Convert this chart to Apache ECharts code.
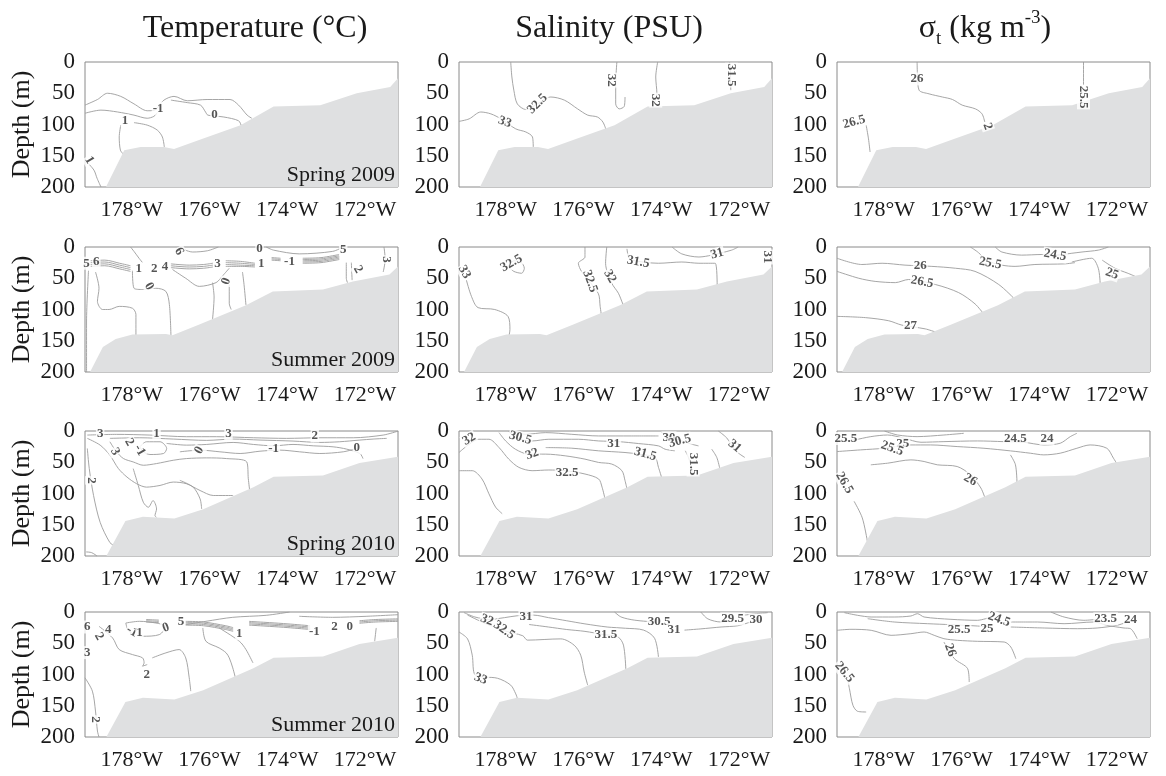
<!DOCTYPE html>
<html><head><meta charset="utf-8">
<script src="https://cdn.jsdelivr.net/npm/echarts@6/dist/echarts.min.js"></script>
<style>html,body{margin:0;padding:0;background:#fff}#c{width:1166px;height:776px}</style>
</head><body><div id="c"></div>
<script>
// ---------- labels / ticks ----------
const seasons = ['Spring 2009', 'Summer 2009', 'Spring 2010', 'Summer 2010'];
const lonTicks = [-178, -176, -174, -172];
const depthTicks = [0, 50, 100, 150, 200];
const lonRange = [-179.2, -171.15];

// ---------- bathymetry [lon, depth] ----------
const bathyRow1 = [[-178.66,200],[-178.19,141],[-177.77,136],[-177.17,136],[-176.91,139],[-176.14,122],[-175.20,101],[-174.35,71],[-173.15,69],[-172.21,50],[-171.35,40],[-171.15,26]];
const bathyRow2 = [[-179.07,200],[-178.74,160],[-178.41,147],[-177.98,140],[-177.12,139],[-176.95,141],[-176.26,124],[-175.06,93],[-174.37,71],[-173.08,68],[-172.31,55],[-171.37,44],[-171.15,31]];
const bathyRow34 = [[-178.65,200],[-178.16,144],[-177.71,137],[-176.90,140],[-176.16,125],[-174.87,90],[-174.35,73],[-173.08,71],[-172.14,51],[-171.15,41]];

// ---------- Temperature, Spring 2009 ----------
const tSp09Lines = [
 [[-179.20,69],[-178.88,60],[-178.62,50],[-178.28,55],[-177.94,67],[-177.60,78],[-177.41,77],[-177.17,61],[-176.91,55],[-176.57,62],[-176.06,60],[-175.47,60],[-175.25,69],[-175.03,85],[-174.91,90]],
 [[-179.20,82],[-178.79,77],[-178.36,80],[-177.94,85],[-177.60,90],[-177.43,87],[-177.34,81]],
 [[-176.99,61],[-176.57,65],[-176.23,69],[-176.10,80],[-176.04,85],[-175.63,88],[-175.25,94],[-175.18,102]],
 [[-177.94,97],[-177.60,101],[-177.34,109],[-177.21,120],[-177.16,136]],
 [[-178.28,101],[-178.32,120],[-178.29,141],[-178.22,147]],
 [[-179.15,160],[-178.97,173],[-178.89,186],[-178.79,200]]
];
const tSp09Labels = [[-177.32,74,'-1',0],[-175.87,85,'0',0],[-178.17,94,'1',0],[-179.09,157,'1',-60]];

// ---------- Salinity, Spring 2009 ----------
const sSp09Lines = [
 [[-179.20,95],[-178.94,91],[-178.64,80],[-178.38,83],[-178.12,91],[-177.74,107],[-177.48,112],[-177.31,120],[-177.29,137]],
 [[-177.87,0],[-177.84,24],[-177.79,45],[-177.70,67],[-177.48,76],[-177.18,67],[-176.84,56],[-176.49,61],[-176.15,75],[-175.89,85],[-175.64,88],[-175.50,96],[-175.42,108]],
 [[-175.14,0],[-175.17,35],[-175.17,67],[-175.08,75],[-174.95,71],[-174.93,56]],
 [[-174.09,0],[-174.14,24],[-174.11,51],[-174.22,72]],
 [[-172.24,0],[-172.22,13],[-172.21,45]]
];
const sSp09Labels = [[-178.02,96,'33',-20],[-177.18,67,'32.5',45],[-175.28,29,'32',-90],[-174.14,61,'32',-90],[-172.19,21,'31.5',-90]];

// ---------- Sigma-t, Spring 2009 ----------
const dSp09Lines = [
 [[-177.14,0],[-177.13,21],[-177.09,45],[-176.83,51],[-176.49,56],[-176.23,60],[-175.98,69],[-175.64,75],[-175.47,83],[-175.40,96]],
 [[-178.45,101],[-178.39,123],[-178.35,144]],
 [[-172.86,0],[-172.86,37]]
];
const dSp09Labels = [[-177.14,27,'26',0],[-175.33,103,'2',-70],[-178.76,96,'26.5',15],[-172.86,56,'25.5',-90]];

// ---------- Temperature, Summer 2009 ----------
const tSu09Lines = [
 [[-179.11,38],[-179.16,120],[-179.16,200]],
 [[-178.93,40],[-178.84,66],[-178.88,87],[-178.75,100],[-178.58,100],[-178.32,95],[-177.98,98],[-177.89,108],[-177.89,145]],
 [[-177.98,38],[-177.94,66],[-177.72,68],[-177.38,66],[-177.12,71],[-177.03,92],[-176.99,141]],
 [[-176.95,36],[-176.61,50],[-176.26,63],[-175.83,57],[-175.66,46],[-175.49,34]],
 [[-175.92,57],[-175.88,80],[-175.92,116]],
 [[-175.49,60],[-175.49,90],[-175.44,100]],
 [[-175.15,40],[-175.11,60],[-175.06,93]],
 [[-174.54,0],[-174.35,5],[-173.69,11],[-172.83,7],[-172.56,0]],
 [[-172.48,25],[-172.48,50],[-172.45,57]],
 [[-172.35,25],[-172.33,53]],
 [[-171.51,0],[-171.48,20],[-171.53,40]],
 [[-178.03,0],[-177.94,7],[-177.81,18],[-177.72,25]],
 [[-176.81,0],[-176.43,8],[-176.05,6],[-175.77,0]],
 [[-179.07,22],[-178.69,21],[-178.31,26],[-178.03,30]],
 [[-179.07,25],[-178.69,24],[-178.31,29],[-178.03,33]],
 [[-179.07,28],[-178.69,27],[-178.31,32],[-178.03,36]],
 [[-179.07,31],[-178.69,30],[-178.31,35],[-178.03,39]],
 [[-176.99,27],[-176.52,29],[-176.15,28],[-175.91,26]],
 [[-176.99,30],[-176.52,32],[-176.15,31],[-175.91,29]],
 [[-176.99,33],[-176.52,35],[-176.15,34],[-175.91,32]],
 [[-175.58,22],[-175.20,23],[-174.83,26]],
 [[-175.58,25],[-175.20,26],[-174.83,28]],
 [[-175.58,28],[-175.20,29],[-174.83,30]],
 [[-175.58,31],[-175.20,31],[-174.83,32]],
 [[-174.40,17],[-174.17,18]],
 [[-174.40,19],[-174.17,20]],
 [[-174.40,21],[-174.17,22]],
 [[-173.60,18],[-173.13,17],[-172.66,12]],
 [[-173.60,20],[-173.13,19],[-172.66,14]],
 [[-173.60,22],[-173.13,21],[-172.66,16]],
 [[-173.60,24],[-173.13,23],[-172.66,18]],
 [[-173.60,26],[-173.13,25],[-172.66,20]]
];
const tSu09Labels = [[-179.16,26,'5',0],[-178.91,23,'6',0],[-177.82,35,'1',0],[-177.42,35,'2',0],[-177.14,32,'4',0],[-176.78,7,'6',-60],[-177.55,63,'0',-60],[-175.79,27,'3',0],[-175.57,55,'0',70],[-174.67,27,'1',0],[-174.71,3,'0',0],[-173.94,24,'-1',0],[-172.56,4,'5',0],[-172.18,36,'2',-60],[-171.45,20,'3',-90]];

// ---------- Salinity, Summer 2009 ----------
const sSu09Lines = [
 [[-179.01,53],[-178.88,79],[-178.71,97],[-178.28,100],[-177.94,111],[-177.89,132],[-177.91,141]],
 [[-177.94,31],[-177.79,39],[-177.59,42],[-177.52,34],[-177.61,24],[-177.79,22],[-177.94,31]],
 [[-175.96,0],[-175.96,16],[-176.13,26],[-176.04,40],[-175.62,74],[-175.57,95],[-175.53,113]],
 [[-175.40,0],[-175.43,26],[-175.27,58],[-175.10,74],[-174.98,92],[-174.93,97]],
 [[-174.88,3],[-174.84,16],[-174.76,21],[-174.07,26],[-173.47,24],[-173.03,26],[-172.61,26],[-172.56,63]],
 [[-173.72,0],[-173.47,11],[-173.03,16],[-172.70,13],[-172.19,5],[-172.02,0]]
];
const sSu09Labels = [[-179.06,40,'33',-60],[-177.85,26,'32.5',30],[-175.83,55,'32.5',-70],[-175.32,47,'32',-60],[-174.59,24,'31.5',-10],[-172.56,11,'31',15],[-171.28,16,'31',-90]];

// ---------- Sigma-t, Summer 2009 ----------
const dSu09Lines = [
 [[-179.20,18],[-178.56,28],[-178.04,26],[-177.45,29],[-176.76,31],[-176.15,34],[-175.65,39],[-175.04,60],[-174.62,84]],
 [[-179.20,39],[-178.64,50],[-178.22,55],[-177.70,57],[-177.36,52],[-176.67,60],[-176.07,73],[-175.65,91],[-175.43,107]],
 [[-179.20,111],[-178.47,113],[-177.87,118],[-177.53,125],[-176.93,131],[-176.67,136]],
 [[-175.77,0],[-175.56,9],[-175.37,21],[-174.96,29],[-174.62,31],[-174.11,28],[-173.34,27],[-173.08,25]],
 [[-175.13,0],[-174.96,8],[-174.45,13],[-173.93,12],[-173.59,13],[-173.16,10],[-172.90,8],[-172.48,5],[-172.22,0]],
 [[-173.16,24],[-172.65,18],[-172.48,34],[-172.43,60]],
 [[-172.38,21],[-172.05,34],[-171.72,42],[-171.53,47]]
];
const dSu09Labels = [[-177.06,30,'26',0],[-177.01,56,'26.5',-10],[-177.31,126,'27',0],[-175.26,26,'25.5',-10],[-173.59,13,'24.5',-10],[-172.13,43,'25',-20]];

// ---------- Temperature, Spring 2010 ----------
const tSp10Lines = [
 [[-179.14,6.5],[-178.39,5.4],[-177.53,6.5],[-176.59,9.1],[-175.82,9.1],[-174.87,10.8],[-174.02,11.8],[-173.16,10.8],[-172.30,10.8],[-171.53,6.5],[-171.14,0]],
 [[-178.56,11.8],[-177.79,10.8],[-176.93,12.9],[-176.07,15],[-175.39,12.9],[-174.70,14.5],[-173.85,16.1],[-173.16,18.3],[-172.65,17.2],[-172.13,14.5],[-171.79,12.9],[-171.44,11.8]],
 [[-177.10,19.9],[-176.59,22.6],[-176.07,21.5],[-175.39,18.3],[-174.87,21.5],[-174.35,23.7],[-173.85,21.5],[-173.33,23.7],[-172.82,25.3],[-172.47,29],[-172.13,36],[-172.05,44.1]],
 [[-176.76,33.3],[-176.24,30.6],[-175.73,33.3],[-175.21,36],[-174.70,32.3],[-174.18,30.6],[-173.68,33.3],[-173.16,36],[-172.56,33.3],[-172.21,28]],
 [[-179.14,11.8],[-178.81,22.6],[-178.56,38.7],[-178.34,60.2],[-178.12,73.7],[-177.87,84.4],[-177.62,89.8],[-177.27,87.1],[-176.93,81.7],[-176.59,84.4],[-176.24,95.2],[-175.90,103.2],[-175.39,103.2]],
 [[-178.56,17.2],[-178.39,33.3],[-178.21,44.1],[-177.96,49.5],[-177.70,54.8],[-177.36,52.1],[-176.93,46.8],[-176.59,44.1],[-176.07,43],[-175.56,44.1],[-175.04,49.5],[-175.00,76.3],[-174.96,97.8]],
 [[-177.96,60.2],[-177.83,87.1],[-177.70,114],[-177.57,122],[-177.45,111.3],[-177.36,124.7],[-177.40,135.5],[-177.36,138.2]],
 [[-176.76,79],[-176.42,89.8],[-176.24,108.6],[-176.20,124.7]],
 [[-177.79,25.3],[-177.62,17.2],[-177.27,17.2],[-177.10,28],[-177.18,36],[-177.53,37.6],[-177.70,33.3],[-177.79,25.3]],
 [[-179.14,28],[-179.09,60.2],[-178.98,103.2],[-178.81,146.2],[-178.56,178.5],[-178.43,183.9]],
 [[-179.17,193.5],[-179.03,194.6],[-178.89,200]]
];
const tSp10Labels = [[-178.81,4,'3',0],[-177.36,4,'1',0],[-175.51,4,'3',0],[-173.29,8,'2',0],[-178.43,33,'3',-60],[-178.06,18,'2',-60],[-177.79,31,'-1',-60],[-176.26,31,'0',60],[-174.35,29,'-1',0],[-172.21,27,'0',0],[-179.03,79,'2',-90]];

// ---------- Salinity, Spring 2010 ----------
const sSp10Lines = [
 [[-179.20,34.4],[-178.94,21.2],[-178.69,13.2],[-178.43,13.2],[-178.17,26.5],[-177.92,45],[-177.66,58.2],[-177.32,63.5],[-176.89,62.4],[-176.47,63.5],[-175.96,68.8],[-175.61,76.7],[-175.52,89.9],[-175.44,110]],
 [[-178.17,2.6],[-178.00,15.9],[-177.75,29.1],[-177.41,37],[-176.97,37],[-176.47,39.7],[-175.96,45],[-175.61,50.3],[-175.27,52.9],[-175.01,63.5],[-174.93,79.4],[-174.88,92.6]],
 [[-179.20,63.5],[-178.86,63.5],[-178.61,76.7],[-178.43,100.5],[-178.26,121.7],[-178.09,132.2]],
 [[-177.92,0],[-177.75,10.6],[-177.32,15.9],[-176.89,13.2],[-176.13,13.2],[-175.61,15.9],[-175.10,17],[-174.58,20.1],[-174.07,23.8],[-173.90,29.1],[-173.65,31.7]],
 [[-177.83,0],[-177.49,5.3],[-176.97,2.6],[-176.30,5.3],[-175.61,7.9],[-174.76,7.9],[-174.07,7.9]],
 [[-176.97,26.5],[-176.30,27.5],[-175.61,31.7],[-174.93,34.4],[-174.58,37],[-174.16,42.3],[-174.07,58.2],[-173.99,74.1]],
 [[-172.53,0],[-172.32,10.6],[-172.20,21.2],[-172.03,34.4],[-171.85,42.3]],
 [[-172.70,29.1],[-172.57,42.3],[-172.49,60.8]],
 [[-173.99,2.6],[-173.73,10.6],[-173.47,15.9],[-173.21,21.2],[-173.04,23.8]],
 [[-173.38,31.7],[-173.30,42.3],[-173.21,63.5],[-173.21,74]]
];
const sSp10Labels = [[-178.94,13,'32',30],[-177.62,11,'30.5',-15],[-177.32,37,'32',20],[-175.22,20,'31',0],[-174.41,37,'31.5',-15],[-176.42,66,'32.5',0],[-173.80,11,'30',0],[-173.52,16,'30.5',15],[-172.11,24,'31',-40],[-173.18,53,'31.5',-90]];

// ---------- Sigma-t, Spring 2010 ----------
const dSp10Lines = [
 [[-179.20,32.9],[-178.59,30.2],[-177.98,27.6],[-177.30,22.3],[-176.79,22.3],[-176.11,24.9],[-175.42,27.6],[-174.74,31.8],[-174.23,35.5],[-173.88,38.2],[-173.46,35.5],[-173.03,27.6],[-172.69,22.3],[-172.26,27.6],[-172.09,43.5],[-172.01,51.5]],
 [[-179.20,17],[-178.76,14.3],[-178.33,9],[-177.90,6.4],[-177.47,11.7],[-177.04,18],[-176.45,17],[-175.59,15.9],[-174.91,17],[-174.40,18],[-173.88,22.3],[-173.46,19.6],[-173.20,9],[-173.03,3.7]],
 [[-178.33,54.1],[-177.90,51.5],[-177.30,46.2],[-176.96,48.8],[-176.62,54.1],[-176.11,56.8],[-175.77,70],[-175.50,91.2],[-175.38,109.8]],
 [[-178.76,112.5],[-178.55,139],[-178.42,176]],
 [[-174.74,38.2],[-174.61,54.1],[-174.57,83.3]],
 [[-177.98,0],[-177.64,6.4],[-177.14,9],[-176.45,6.4],[-175.94,3.7]]
];
const dSp10Labels = [[-178.97,12,'25.5',0],[-177.51,20,'25',0],[-177.78,28,'25.5',-20],[-174.61,12,'24.5',0],[-173.80,12,'24',0],[-175.77,78,'26',-30],[-179.01,83,'26.5',-60]];

// ---------- Temperature, Summer 2010 ----------
const tSu10Lines = [
 [[-177.63,12],[-177.30,13]],
 [[-177.63,14],[-177.30,15]],
 [[-177.63,16],[-177.30,17]],
 [[-176.61,15],[-176.15,16],[-175.58,22],[-175.39,25]],
 [[-176.61,17],[-176.15,18],[-175.58,24],[-175.39,27]],
 [[-176.61,19],[-176.15,20],[-175.58,26],[-175.39,29]],
 [[-176.61,21],[-176.15,22],[-175.58,28],[-175.39,31]],
 [[-174.98,15],[-174.45,17],[-173.98,19],[-173.41,22]],
 [[-174.98,17],[-174.45,19],[-173.98,21],[-173.41,24]],
 [[-174.98,19],[-174.45,21],[-173.98,23],[-173.41,26]],
 [[-174.98,21],[-174.45,23],[-173.98,25],[-173.41,28]],
 [[-172.14,14],[-171.72,12],[-171.15,11]],
 [[-172.14,16],[-171.72,14],[-171.15,13]],
 [[-172.14,18],[-171.72,16],[-171.15,15]],
 [[-176.61,20.2],[-176.09,14.9],[-175.40,8.5],[-174.54,5.3],[-173.94,0]],
 [[-173.69,6.9],[-172.83,8.5],[-171.97,6.9],[-171.15,4.3]],
 [[-178.15,17.6],[-177.80,14.9],[-177.38,17.6],[-177.12,22.9],[-177.29,36.2],[-177.72,38.8],[-178.07,30.9],[-178.15,17.6]],
 [[-178.84,22.9],[-178.49,41.5],[-178.32,60.1],[-177.98,68.1],[-177.72,73.4],[-177.68,81.4],[-177.72,86.7],[-177.60,84.1]],
 [[-177.47,73.4],[-177.12,65.4],[-176.78,60.1],[-176.61,73.4],[-176.52,105.3],[-176.48,126.6]],
 [[-176.17,25.5],[-176.09,46.8],[-175.75,57.5],[-175.57,65.4],[-175.49,73.4],[-175.40,89.4],[-175.32,108]],
 [[-175.75,25.5],[-175.23,46.8],[-175.06,60.1],[-174.88,81.4]],
 [[-179.20,105.3],[-179.01,126.6],[-178.93,158.5],[-178.88,190.5],[-178.84,200]],
 [[-171.71,25.5],[-171.75,46.8]]
];
const tSu10Labels = [[-179.14,24,'6',0],[-178.60,28,'4',0],[-178.84,39,'2',-60],[-177.99,31,'-1',-30],[-177.80,33,'1',0],[-177.12,25,'0',20],[-176.73,16,'5',0],[-175.23,35,'1',0],[-173.30,31,'-1',0],[-172.78,23,'2',0],[-172.39,23,'0',0],[-179.14,65,'3',0],[-177.61,100,'2',0],[-178.93,172,'2',-90]];

// ---------- Salinity, Summer 2010 ----------
const sSu10Lines = [
 [[-179.07,1],[-178.79,8],[-178.41,12],[-178.03,9],[-177.70,6],[-177.28,5],[-176.90,9],[-176.43,14],[-175.96,19],[-175.39,24],[-174.92,26],[-174.45,29],[-174.17,42],[-174.07,72]],
 [[-177.40,20],[-176.90,24],[-176.43,28],[-175.96,31],[-175.49,36],[-175.11,40],[-174.97,53],[-174.91,91]],
 [[-178.98,5],[-178.50,19],[-178.03,30],[-177.56,38],[-177.44,45],[-176.58,43],[-176.24,53],[-176.07,69],[-175.98,96],[-175.89,117]],
 [[-179.20,32],[-178.98,43],[-178.86,69],[-178.78,101],[-178.21,106],[-177.87,117],[-177.74,131],[-177.70,138]],
 [[-175.20,0],[-175.03,8],[-174.69,13],[-174.17,16]],
 [[-173.40,29],[-172.98,27],[-172.46,24],[-172.03,22],[-171.69,16],[-171.43,13]],
 [[-172.98,0],[-172.80,11],[-172.46,16],[-172.24,13]],
 [[-171.86,5],[-171.60,3],[-171.26,1]]
];
const sSu10Labels = [[-177.48,8,'31',0],[-178.48,13,'32',-20],[-178.04,29,'32.5',-35],[-175.42,37,'31.5',0],[-174.05,15,'30.5',0],[-173.67,28,'31',0],[-172.16,11,'29.5',0],[-171.56,13,'30',0],[-178.64,107,'33',-20]];

// ---------- Sigma-t, Summer 2010 ----------
const dSu10Lines = [
 [[-179.01,1.1],[-178.67,5.3],[-178.32,8],[-177.73,8],[-177.30,6.4],[-177.13,2.7],[-176.96,8],[-176.27,11.7],[-175.59,13.3],[-175.24,8]],
 [[-178.41,10.7],[-177.73,16],[-176.87,18.7],[-176.27,20.3],[-175.59,22.4],[-175.24,24]],
 [[-179.20,29.3],[-178.84,27.7],[-178.32,29.3],[-177.81,37.3],[-177.30,34.7],[-176.96,32],[-176.70,37.3],[-176.45,42.7],[-176.10,45.3],[-175.59,46.9],[-174.90,48],[-174.73,56],[-174.60,74.7]],
 [[-176.45,48],[-176.18,74.7],[-175.84,90.7],[-175.80,112]],
 [[-178.93,106.7],[-178.88,122.7],[-178.79,149.3],[-178.67,158.9],[-178.45,160]],
 [[-174.73,16],[-174.04,16],[-173.36,18.7],[-172.59,16],[-172.26,21.3],[-171.82,25.6],[-171.65,26.7],[-171.48,42.7]],
 [[-174.73,24],[-173.87,25.6],[-173.02,26.7],[-172.51,25.6],[-172.00,21.3],[-171.73,16]],
 [[-173.70,0],[-173.36,8],[-172.85,13.3],[-172.51,11.7]]
];
const dSu10Labels = [[-175.03,12,'24.5',-20],[-175.34,27,'25',0],[-176.06,29,'25.5',0],[-176.29,61,'26',-70],[-179.01,96,'26.5',-50],[-172.29,11,'23.5',0],[-171.65,13,'24',0]];

// ---------- assemble ----------
const panelLines = [
 [tSp09Lines, sSp09Lines, dSp09Lines],
 [tSu09Lines, sSu09Lines, dSu09Lines],
 [tSp10Lines, sSp10Lines, dSp10Lines],
 [tSu10Lines, sSu10Lines, dSu10Lines]
];
const panelLabels = [
 [tSp09Labels, sSp09Labels, dSp09Labels],
 [tSu09Labels, sSu09Labels, dSu09Labels],
 [tSp10Labels, sSp10Labels, dSp10Labels],
 [tSu10Labels, sSu10Labels, dSu10Labels]
];
const rowBathy = [bathyRow1, bathyRow2, bathyRow34, bathyRow34];

const FONT = 'Liberation Serif';
const colLeft = [85, 459, 837];
const rowTop = [62, 247, 431, 612];
const plotW = 313, plotH = 125;

const grids = [], xAxes = [], yAxes = [], series = [], graphics = [];
let k = 0;
for (let r = 0; r < 4; r++) {
  for (let c = 0; c < 3; c++) {
    grids.push({left: colLeft[c], top: rowTop[r], width: plotW, height: plotH,
      show: true, borderColor: '#8a8a8a', borderWidth: 1, backgroundColor: '#fff'});
    xAxes.push({type: 'value', gridIndex: k, min: lonRange[0], max: lonRange[1],
      axisLine: {show: false}, axisTick: {show: false}, splitLine: {show: false},
      axisLabel: {customValues: lonTicks, formatter: v => Math.abs(v) + '°W',
        fontFamily: FONT, fontSize: 22, color: '#1a1a1a', margin: 12}});
    yAxes.push({type: 'value', gridIndex: k, inverse: true, min: 0, max: 200, interval: 50,
      axisLine: {show: false}, axisTick: {show: false}, splitLine: {show: false},
      axisLabel: {customValues: depthTicks, fontFamily: FONT, fontSize: 23, color: '#1a1a1a', margin: 10},
      name: c === 0 ? 'Depth (m)' : '', nameLocation: 'middle', nameGap: 50, nameRotate: 90,
      nameTextStyle: {fontFamily: FONT, fontSize: 26, color: '#1a1a1a'}});
    panelLines[r][c].forEach(line => series.push({
      type: 'line', xAxisIndex: k, yAxisIndex: k, data: line, symbol: 'none', smooth: 0.3,
      lineStyle: {color: '#9c9c9c', width: 0.9}, silent: true, z: 2, animation: false}));
    series.push({type: 'line', xAxisIndex: k, yAxisIndex: k, data: rowBathy[r], symbol: 'none',
      lineStyle: {width: 0}, areaStyle: {color: '#dfe0e1', opacity: 1, origin: 'end'},
      silent: true, z: 3, animation: false});
    series.push({type: 'scatter', xAxisIndex: k, yAxisIndex: k, symbolSize: 1,
      itemStyle: {color: 'rgba(0,0,0,0)'}, silent: true, z: 4, animation: false,
      data: panelLabels[r][c].map(l => ({value: [l[0], l[1]], label: {formatter: l[2], rotate: l[3]}})),
      label: {show: true, position: 'inside', fontFamily: FONT, fontSize: 13, fontWeight: 'bold',
        color: '#2a2a2a', backgroundColor: '#fff', padding: [0, 1]}});
    k++;
  }
  graphics.push({type: 'text', x: colLeft[0] + plotW - 3, y: rowTop[r] + plotH - 1, z: 10,
    style: {text: seasons[r], font: '22px "Liberation Serif"', fill: '#1a1a1a',
      textAlign: 'right', textVerticalAlign: 'bottom'}});
}

graphics.push({type: 'text', x: 255, y: 29, style: {text: 'Temperature (°C)', font: '32px "Liberation Serif"', fill: '#1a1a1a', textAlign: 'center', textVerticalAlign: 'middle'}});
graphics.push({type: 'text', x: 609, y: 29, style: {text: 'Salinity (PSU)', font: '32px "Liberation Serif"', fill: '#1a1a1a', textAlign: 'center', textVerticalAlign: 'middle'}});
graphics.push({type: 'text', x: 985, y: 29, style: {
  text: '{a|σ}{b|t}{a| (kg m}{c|-3}{a|)}', fill: '#1a1a1a', textAlign: 'center', textVerticalAlign: 'middle',
  rich: {
    a: {fontFamily: FONT, fontSize: 32, lineHeight: 40, verticalAlign: 'middle', fill: '#1a1a1a'},
    b: {fontFamily: FONT, fontSize: 19, lineHeight: 20, verticalAlign: 'bottom', fill: '#1a1a1a'},
    c: {fontFamily: FONT, fontSize: 19, lineHeight: 22, verticalAlign: 'top', fill: '#1a1a1a'}
  }}});

const chart = echarts.init(document.getElementById('c'), null, {renderer: 'canvas'});
chart.setOption({backgroundColor: '#fff', animation: false, grid: grids, xAxis: xAxes, yAxis: yAxes, series: series, graphic: graphics});
</script></body></html>
